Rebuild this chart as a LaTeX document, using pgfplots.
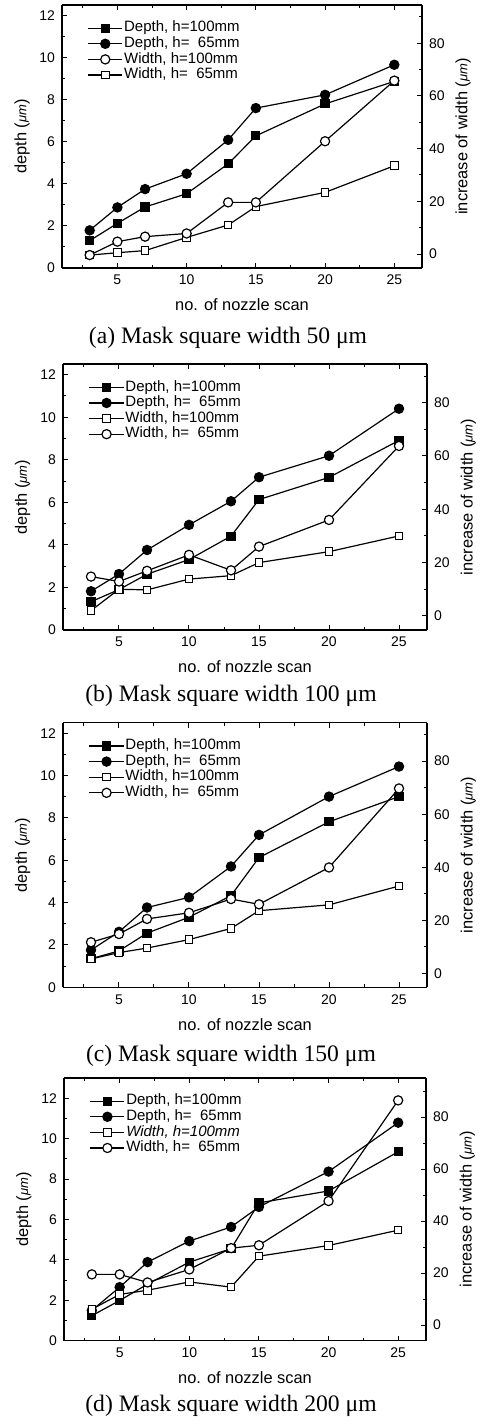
\documentclass[border=0pt]{standalone}
\usepackage{pgfplots}
\pgfplotsset{compat=1.18}
\usepackage{fontspec}
\setmainfont{Liberation Sans}
\newfontfamily\serif{Liberation Serif}
\newcommand{\um}{{\fontsize{6.5}{7}\selectfont\itshape μm}}
\pgfplotsset{
  base/.style={scale only axis, xmin=1, xmax=27,
    /pgf/number format/assume math mode=true,
    tick label style={font=\fontsize{7}{8}\selectfont},
    label style={font=\fontsize{8.2}{9}\selectfont},
    major tick length=2.5pt, minor tick length=1.5pt,
    every tick/.style={line width=0.5pt, black},
    axis line style={line width=0.6pt}},
  leftax/.style={base, axis y line*=left, ymin=0, ymax=12.5,
    xtick={5,10,15,20,25}, minor xtick={2.5,7.5,12.5,17.5,22.5},
    ytick={0,2,...,12}, minor ytick={1,3,...,11},
    xlabel={no. of nozzle scan}, ylabel={depth (\um)},
    xlabel style={at={(axis description cs:0.5,0)}, anchor=center, yshift=-18.5pt},
    ylabel style={at={(axis description cs:-0.111,0.5)}, anchor=center},
    legend style={at={(0.07,0.943)}, anchor=north west, draw=none, fill=none,
      font=\fontsize{7.5}{8}\selectfont, inner sep=0pt, row sep=0pt,
      nodes={inner sep=0.6pt, text height=5.2pt, text depth=1.4pt}},
    legend cell align=left},
  rightax/.style={base, axis y line*=right, axis x line=none, ymin=-5.3, ymax=94.5,
    ytick={0,20,...,80}, minor ytick={10,30,...,90},
    ylabel={increase of width (\um)},
    ylabel style={at={(axis description cs:1.114,0.5)}, anchor=center}},
  fsq/.style={black, line width=0.6pt, mark=square*, mark size=2pt, mark options={fill=black, solid}},
  fci/.style={black, line width=0.6pt, mark=*, mark size=2.3pt, mark options={fill=black, solid}},
  osq/.style={black, line width=0.6pt, mark=square*, mark size=1.9pt, mark options={fill=white, line width=0.5pt, solid}},
  oci/.style={black, line width=0.6pt, mark=*, mark size=2.3pt, mark options={fill=white, line width=0.6pt, solid}},
}
\begin{document}
\begin{tikzpicture}
\path[use as bounding box] (0,0) rectangle (239.5pt,-712.5pt);
% ---------------- (a)
\begin{axis}[leftax, at={(31pt,-2.5pt)}, anchor=north west, width=180pt, height=131.5pt]
\addplot[fsq] coordinates {(3,1.30) (5,2.12) (7,2.90) (10,3.53) (13,4.95) (15,6.28) (20,7.80) (25,8.87)};
\addlegendentry{Depth, h=100mm}
\addplot[fci] coordinates {(3,1.79) (5,2.88) (7,3.75) (10,4.48) (13,6.09) (15,7.60) (20,8.23) (25,9.66)};
\addlegendentry{Depth, h=\hphantom{1}65mm}
\addlegendimage{oci}
\addlegendentry{Width, h=100mm}
\addlegendimage{osq}
\addlegendentry{Width, h=\hphantom{1}65mm}
\end{axis}
\begin{axis}[rightax, at={(31pt,-2.5pt)}, anchor=north west, width=180pt, height=131.5pt]
\addplot[osq] coordinates {(3,-0.4) (5,0.5) (7,1.3) (10,6.3) (13,11.0) (15,18.0) (20,23.4) (25,33.5)};
\addplot[oci] coordinates {(3,-0.4) (5,4.7) (7,6.6) (10,7.8) (13,19.6) (15,19.6) (20,42.8) (25,65.8)};
\end{axis}
\node[font=\serif\fontsize{11.8}{12}\selectfont] at (114pt,-169pt) {(a) Mask square width 50 μm};
% ---------------- (b)
\begin{axis}[leftax, at={(31.5pt,-182pt)}, anchor=north west, width=182pt, height=133pt]
\addplot[fsq] coordinates {(3,1.33) (5,1.90) (7,2.62) (10,3.31) (13,4.41) (15,6.13) (20,7.17) (25,8.91)};
\addlegendentry{Depth, h=100mm}
\addplot[fci] coordinates {(3,1.82) (5,2.63) (7,3.76) (10,4.94) (13,6.05) (15,7.18) (20,8.19) (25,10.40)};
\addlegendentry{Depth, h=\hphantom{1}65mm}
\addlegendimage{osq}
\addlegendentry{Width, h=100mm}
\addlegendimage{oci}
\addlegendentry{Width, h=\hphantom{1}65mm}
\end{axis}
\begin{axis}[rightax, at={(31.5pt,-182pt)}, anchor=north west, width=182pt, height=133pt]
\addplot[osq] coordinates {(3,2.0) (5,10.0) (7,9.75) (10,13.8) (13,15.1) (15,20.0) (20,24.1) (25,30.0)};
\addplot[oci] coordinates {(3,14.75) (5,12.9) (7,16.9) (10,22.9) (13,17.1) (15,26.0) (20,36.0) (25,63.75)};
\end{axis}
\node[font=\serif\fontsize{11.8}{12}\selectfont] at (115.5pt,-348pt) {(b) Mask square width 100 μm};
% ---------------- (c)
\begin{axis}[leftax, at={(31.5pt,-361.35pt)}, anchor=north west, width=182pt, height=132.3pt]
\addplot[fsq] coordinates {(3,1.35) (5,1.72) (7,2.56) (10,3.31) (13,4.33) (15,6.13) (20,7.82) (25,9.01)};
\addlegendentry{Depth, h=100mm}
\addplot[fci] coordinates {(3,1.76) (5,2.62) (7,3.77) (10,4.25) (13,5.71) (15,7.20) (20,9.01) (25,10.43)};
\addlegendentry{Depth, h=\hphantom{1}65mm}
\addlegendimage{osq}
\addlegendentry{Width, h=100mm}
\addlegendimage{oci}
\addlegendentry{Width, h=\hphantom{1}65mm}
\end{axis}
\begin{axis}[rightax, at={(31.5pt,-361.35pt)}, anchor=north west, width=182pt, height=132.3pt]
\addplot[osq] coordinates {(3,5.4) (5,7.8) (7,9.5) (10,12.7) (13,16.9) (15,23.6) (20,25.8) (25,32.9)};
\addplot[oci] coordinates {(3,11.7) (5,14.8) (7,20.5) (10,22.8) (13,28.0) (15,26.0) (20,39.9) (25,69.7)};
\end{axis}
\node[font=\serif\fontsize{11.8}{12}\selectfont] at (115.5pt,-528pt) {(c) Mask square width 150 μm};
% ---------------- (d)
\begin{axis}[leftax, ymax=13, at={(32pt,-539pt)}, anchor=north west, width=181pt, height=131.35pt]
\addplot[fsq] coordinates {(3,1.24) (5,1.99) (7,2.8) (10,3.89) (13,4.55) (15,6.82) (20,7.41) (25,9.35)};
\addlegendentry{Depth, h=100mm}
\addplot[fci] coordinates {(3,1.5) (5,2.65) (7,3.89) (10,4.93) (13,5.63) (15,6.62) (20,8.37) (25,10.79)};
\addlegendentry{Depth, h=\hphantom{1}65mm}
\addlegendimage{osq}
\addlegendentry{\itshape Width, h=100mm}
\addlegendimage{oci}
\addlegendentry{Width, h=\hphantom{1}65mm}
\end{axis}
\begin{axis}[rightax, ymin=-6, ymax=95, at={(32pt,-539pt)}, anchor=north west, width=181pt, height=131.35pt]
\addplot[osq] coordinates {(3,6.1) (5,11.8) (7,13.4) (10,16.6) (13,14.6) (15,26.5) (20,30.6) (25,36.5)};
\addplot[oci] coordinates {(3,19.5) (5,19.5) (7,16.4) (10,21.4) (13,29.6) (15,30.7) (20,47.7) (25,86.4)};
\end{axis}
\node[font=\serif\fontsize{11.8}{12}\selectfont] at (115.5pt,-703pt) {(d) Mask square width 200 μm};
\end{tikzpicture}
\end{document}
